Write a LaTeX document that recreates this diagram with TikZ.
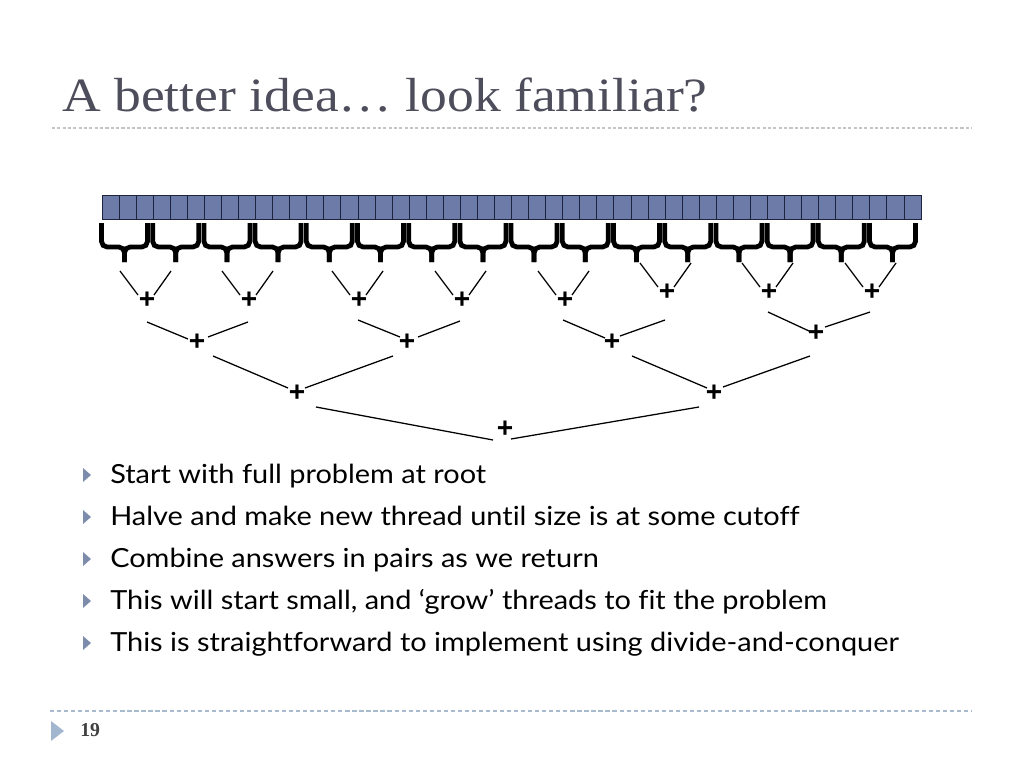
\documentclass[tikz,border=0pt]{standalone}
\usepackage{fontspec}
\setmainfont{Lato}[FakeStretch=1.1, Ligatures=NoCommon]
\newfontfamily\titlefont{Liberation Serif}[FakeStretch=1.12]
\newfontfamily\numfont{Liberation Serif}
\newfontfamily\plusfont{Liberation Sans}
\usetikzlibrary{calc}
\definecolor{cellfill}{HTML}{6D7BA8}
\definecolor{celledge}{HTML}{1E2340}
\definecolor{titlegrey}{HTML}{4D4D5C}
\definecolor{rulegrey}{HTML}{C4C4C4}
\definecolor{rulesteel}{HTML}{A8BACE}
\definecolor{bulletblue}{HTML}{7C8CAA}
\definecolor{pagetri}{HTML}{A2B6CF}

\newcommand{\link}[4]{\draw[link] ($(#1)+(#2)$) -- ($(#3)+(#4)$);}

\begin{document}
\begin{tikzpicture}[x=0.025cm, y=-0.025cm,
  plus/.style={font=\plusfont\bfseries\fontsize{20}{20}\selectfont, inner sep=0pt},
  link/.style={line width=0.9pt},
  bracepen/.style={line width=3.4pt, rounded corners=4pt}]
  \useasboundingbox (0,0) rectangle (1024,768);

  % title
  \node[anchor=base west, inner sep=0pt, text=titlegrey, font=\titlefont\fontsize{34}{34}\selectfont] (title) at (62,112) {A better idea… look familiar?};
  \draw[rulegrey, line width=1.2pt, dash pattern=on 2.2pt off 1.6pt] (52,128) -- (972,128);

  % array of 48 cells
  \foreach \i in {0,...,47}
    \filldraw[fill=cellfill, draw=celledge, line width=0.6pt] (102+\i*17.0625,195) rectangle (119.0625+\i*17.0625,219);

  % braces
  \foreach \i in {0,...,15}{
    \pgfmathsetmacro{\bx}{124.5+51.2*\i}
    \draw[bracepen] (\bx-23,223) |- (\bx,247) -- (\bx,262);
    \draw[bracepen] (\bx+23,223) |- (\bx,247) -- (\bx,262);
  }

  % first level of sums
  \foreach \n/\x/\y in {1/147/300, 2/249/300, 3/359/300, 4/462/300, 5/565/300, 6/667/292, 7/769/292, 8/872/292}{
    \node[plus] (a\n) at (\x,\y) {+};
    \draw[link] ($(a\n)+(-27,-29)$) -- ($(a\n)+(-9,-5)$);
    \draw[link] ($(a\n)+(24,-29)$) -- ($(a\n)+(7,-5)$);
  }

  % upper levels
  \node[plus] (b1) at (197,342) {+};
  \node[plus] (b2) at (407,342) {+};
  \node[plus] (b3) at (612,342) {+};
  \node[plus] (b4) at (816,333) {+};
  \node[plus] (c1) at (297,393) {+};
  \node[plus] (c2) at (714,393) {+};
  \node[plus] (root) at (505,429) {+};

  \link{a1}{0,22}{b1}{-9,-3}
  \link{a2}{-1,22}{b1}{11,-5}
  \link{a3}{-1,20}{b2}{-7,-5}
  \link{a4}{-2,21}{b2}{11,-5}
  \link{a5}{-2,20}{b3}{-7,-4}
  \link{a6}{-2,28}{b3}{8,-6}
  \link{a7}{-1,20}{b4}{-7,-2}
  \link{a8}{-2,20}{b4}{9,-6}
  \link{b1}{16,14}{c1}{-9,-5}
  \link{b2}{-14,14}{c1}{8,-5}
  \link{b3}{20,14}{c2}{-7,-5}
  \link{b4}{-6,23}{c2}{9,-6}
  \link{c1}{19,14}{root}{-12,11}
  \link{c2}{-15,14}{root}{6,10}

  % bullet list
  \foreach \yb/\txt [count=\k] in {483/{Start with full problem at root},
      525/{Halve and make new thread until size is at some cutoff},
      567/{Combine answers in pairs as we return},
      609/{This will start small, and ‘grow’ threads to fit the problem},
      651/{This is straightforward to implement using divide-and-conquer}}{
    \fill[bulletblue] (83,\yb-15) -- (91,\yb-8) -- (83,\yb-1) -- cycle;
    \node[anchor=base west, inner sep=0pt, font=\fontsize{18.7}{21}\selectfont] (item\k) at (110,\yb) {\txt};
  }

  % footer
  \draw[rulesteel, line width=1pt, dash pattern=on 3pt off 2pt] (50,711) -- (972,711);
  \fill[pagetri] (51,721) -- (64,731) -- (51,741) -- cycle;
  \node[anchor=base west, inner sep=0pt, font=\numfont\bfseries\fontsize{14}{14}\selectfont, text=black!75] (pagenum) at (80,736) {19};
\end{tikzpicture}
\end{document}
